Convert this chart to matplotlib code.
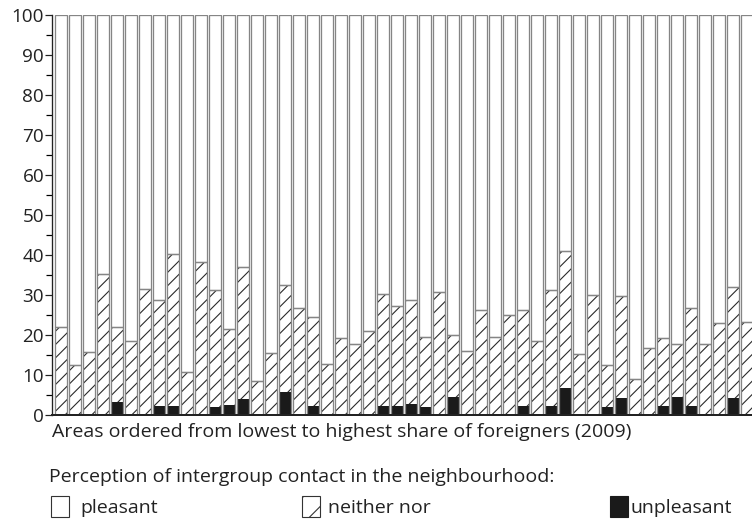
import matplotlib
matplotlib.use("Agg")
import matplotlib.pyplot as plt
from matplotlib.patches import Rectangle
import numpy as np

# shares (%) per area, areas ordered by share of foreigners (2009)
unpleasant = [0, 0, 0, 0, 3.2, 0, 0, 2.3, 2.3, 0,
              0, 2.1, 2.6, 4.1, 0, 0, 5.8, 0, 2.3, 0,
              0, 0, 0, 2.3, 2.2, 2.7, 2.0, 0, 4.4, 0,
              0, 0, 0, 2.3, 0, 2.2, 6.8, 0, 0, 2.0,
              4.2, 0, 0, 2.2, 4.4, 2.2, 0, 0, 4.2, 0]
neither = [22.0, 12.6, 15.8, 35.2, 18.8, 18.6, 31.5, 26.5, 37.9, 10.7,
           38.2, 29.1, 19.0, 33.0, 8.5, 15.6, 26.6, 26.8, 22.3, 12.8,
           19.2, 17.8, 21.0, 28.0, 25.0, 26.0, 17.6, 30.7, 15.6, 15.9,
           26.3, 19.6, 25.0, 23.9, 18.6, 29.0, 34.2, 15.2, 30.0, 10.5,
           25.6, 8.9, 16.7, 17.1, 13.3, 24.5, 17.7, 22.9, 27.7, 23.3]
pleasant = [78.0, 87.4, 84.2, 64.8, 78.0, 81.4, 68.5, 71.2, 59.8, 89.3,
            61.8, 68.8, 78.4, 62.9, 91.5, 84.4, 67.6, 73.2, 75.4, 87.2,
            80.8, 82.2, 79.0, 69.7, 72.8, 71.3, 80.4, 69.3, 80.0, 84.1,
            73.7, 80.4, 75.0, 73.8, 81.4, 68.8, 59.0, 84.8, 70.0, 87.5,
            70.2, 91.1, 83.3, 80.7, 82.3, 73.3, 82.3, 77.1, 68.1, 76.7]

xlabel = "Areas ordered from lowest to highest share of foreigners (2009)"
legend_title = "Perception of intergroup contact in the neighbourhood:"
labels = ["pleasant", "neither nor", "unpleasant"]

plt.rcParams['font.family'] = ['Open Sans', 'DejaVu Sans']
plt.rcParams['hatch.linewidth'] = 1.0
plt.rcParams['hatch.color'] = '#2a2a2a'

DPI = 80
fig = plt.figure(figsize=(752 / DPI, 522 / DPI), dpi=DPI)
ax = fig.add_axes([52 / 752, 1 - 415 / 522, 1 - 52 / 752, 400 / 522])

x = np.arange(len(neither))
unp = np.array(unpleasant)
nei = np.array(neither)
ple = np.array(pleasant)
w = 0.86
grey = '#858585'

ax.bar(x, unp, w, color='#1a1a1a', linewidth=0)
ax.bar(x, nei, w, bottom=unp, facecolor='white', edgecolor='#2a2a2a',
       hatch='//', linewidth=0)
ax.bar(x, ple, w, bottom=unp + nei, facecolor='white', edgecolor=grey,
       linewidth=1.15)
ax.bar(x, unp + nei, w, fill=False, edgecolor=grey, linewidth=1.15)

ax.set_xlim(-0.64, 49.36)
ax.set_ylim(0, 100)
ax.set_yticks(np.arange(0, 101, 10))
ax.set_yticks(np.arange(5, 100, 10), minor=True)
ax.tick_params(axis='y', which='major', length=6, width=1.1, labelsize=17,
               pad=1, colors='#222222')
ax.tick_params(axis='y', which='minor', length=5, width=1.1)
ax.set_xticks([])
for s in ['top', 'right']:
    ax.spines[s].set_visible(False)
ax.spines['left'].set_linewidth(1.2)
ax.spines['bottom'].set_linewidth(1.8)
ax.spines['left'].set_color('#222222')
ax.spines['bottom'].set_color('#222222')

tc = '#222222'
fs = 17.5
fig.text(52 / 752, 1 - 437 / 522, xlabel, fontsize=fs, color=tc, va='baseline')
fig.text(49 / 752, 1 - 482 / 522, legend_title, fontsize=fs, color=tc,
         va='baseline')

# legend row
box_x = [51, 302, 610]
text_x = [80, 328, 631]
styles = [dict(facecolor='white', edgecolor='#333333'),
          dict(facecolor='white', edgecolor='#333333', hatch='/'),
          dict(facecolor='#1a1a1a', edgecolor='#1a1a1a')]
for bx, tx, lab, st in zip(box_x, text_x, labels, styles):
    fig.patches.append(Rectangle((bx / 752, 1 - 517 / 522), 18 / 752, 21 / 522,
                                 transform=fig.transFigure, linewidth=1.0, **st))
    fig.text(tx / 752, 1 - 513 / 522, lab, fontsize=fs, color=tc, va='baseline')

fig.savefig("out.png", dpi=DPI)
